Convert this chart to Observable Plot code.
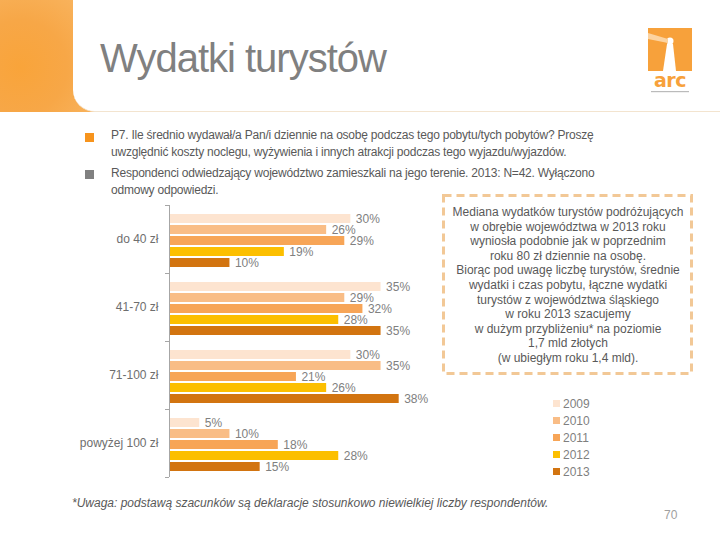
<!DOCTYPE html>
<html>
<head>
<meta charset="utf-8">
<script src="https://cdn.jsdelivr.net/npm/d3@7"></script>
<script src="https://cdn.jsdelivr.net/npm/@observablehq/plot@0.6"></script>
<style>
  html, body { margin: 0; padding: 0; background: #fff; }
  body { width: 720px; height: 540px; position: relative; overflow: hidden; font-family: "Liberation Sans", Arial, sans-serif; color: #595959; }
  .abs { position: absolute; }
  #orange { left: 0; top: 0; width: 100px; height: 112px;
    background: radial-gradient(circle at 20% 60%, #f9a43a 0%, #f7a747 45%, #f9b866 100%); }
  #panel { left: 73px; top: 0; width: 647px; height: 111px; background: #fff; border-bottom-left-radius: 22px; border-bottom: 1px solid #f3e4cf; }
  #title { left: 100px; top: 38px; font-size: 40px; line-height: 40px; letter-spacing: -1px; color: #808080; white-space: nowrap; }
  .bullet { width: 9px; height: 9px; }
  .q { font-size: 12px; line-height: 17px; color: #595959; white-space: nowrap; letter-spacing: -0.22px; }
  #box { left: 440px; top: 192px; }
  #boxtext { left: 446px; top: 205px; width: 244px; text-align: center; font-size: 12px; line-height: 14.6px; color: #595959; white-space: nowrap; }
  #legend { left: 553px; top: 395px; font-size: 12px; color: #7f7f7f; }
  .li { height: 17px; display: flex; align-items: center; }
  .sw { width: 7px; height: 7px; margin-right: 3px; }
  #foot { left: 72px; top: 496px; font-size: 12px; font-style: italic; color: #595959; white-space: nowrap; letter-spacing: 0px; }
  #page { left: 664px; top: 508px; font-size: 12px; color: #a0a0a0; }
  #chart { left: 0; top: 195px; }
  #logo { left: 646px; top: 27px; }
</style>
</head>
<body>
<div id="orange" class="abs"></div>
<div id="panel" class="abs"></div>
<div id="title" class="abs">Wydatki turystów</div>
<svg id="logo" class="abs" width="50" height="68" viewBox="0 0 50 68">
  <rect x="2" y="1" width="44" height="43" fill="#f7a13b"/>
  <polygon points="17,44 21,17 27,17 30,44" fill="#fff"/>
  <circle cx="24" cy="14" r="3.5" fill="#fff"/>
  <polygon points="2,6 22,12 22,16 2,12" fill="#fcd3a0"/>
  <text x="24" y="60" text-anchor="middle" font-size="19" font-weight="bold" fill="#f7a13b" font-family="DejaVu Sans" letter-spacing="-0.5">arc</text>
  <rect x="5" y="64" width="38" height="1.2" fill="#bbb"/>
</svg>

<div class="abs bullet" style="left:85px;top:133px;background:#f7941d"></div>
<div class="abs bullet" style="left:85px;top:170px;background:#808080"></div>
<div class="abs q" style="left:111px;top:127px">P7. Ile średnio wydawał/a Pan/i dziennie na osobę podczas tego pobytu/tych pobytów? Proszę<br>uwzględnić koszty noclegu, wyżywienia i innych atrakcji podczas tego wyjazdu/wyjazdów.</div>
<div class="abs q" style="left:111px;top:165px">Respondenci odwiedzający województwo zamieszkali na jego terenie. 2013: N=42. Wyłączono<br>odmowy odpowiedzi.</div>

<svg id="box" class="abs" width="256" height="186">
  <rect x="3.5" y="3.5" width="248" height="178" fill="none" stroke="#f2c896" stroke-width="3" stroke-dasharray="8,5"/>
</svg>
<div id="boxtext" class="abs">Mediana wydatków turystów podróżujących<br>w obrębie województwa w 2013 roku<br>wyniosła podobnie jak w poprzednim<br>roku 80 zł dziennie na osobę.<br>Biorąc pod uwagę liczbę turystów, średnie<br>wydatki i czas pobytu, łączne wydatki<br>turystów z województwa śląskiego<br>w roku 2013 szacujemy<br>w dużym przybliżeniu* na poziomie<br>1,7 mld złotych<br>(w ubiegłym roku 1,4 mld).</div>

<div id="chart" class="abs"></div>
<div id="legend" class="abs"></div>

<div id="foot" class="abs">*Uwaga: podstawą szacunków są deklaracje stosunkowo niewielkiej liczby respondentów.</div>
<div id="page" class="abs">70</div>

<script>
const categories = ["do 40 zł", "41-70 zł", "71-100 zł", "powyżej 100 zł"];
const years = ["2009", "2010", "2011", "2012", "2013"];
const values2009 = [30, 35, 30, 5];
const values2010 = [26, 29, 35, 10];
const values2011 = [29, 32, 21, 18];
const values2012 = [19, 28, 26, 28];
const values2013 = [10, 35, 38, 15];
const yearColors = ["#fde4d0", "#f9bd86", "#f7a557", "#fcbf00", "#d27410"];

const series = [values2009, values2010, values2011, values2012, values2013];
const data = [];
categories.forEach((c, i) => {
  years.forEach((y, j) => data.push({cat: c, year: y, value: series[j][i]}));
});

const W = 450, H = 287, ML = 169, MT = 10, MB = 5;
const plot = Plot.plot({
  width: W,
  height: H,
  marginLeft: ML,
  marginRight: W - ML - 272,
  marginTop: MT,
  marginBottom: MB,
  style: {fontFamily: "Liberation Sans, Arial, sans-serif", fontSize: "12px", color: "#6e6e6e", background: "transparent"},
  x: {domain: [0, 45], axis: null},
  y: {domain: years, axis: null, paddingInner: 0.18, paddingOuter: 0.5, align: 0.6},
  fy: {domain: categories, padding: 0, label: null, axis: "left", tickSize: 0, tickPadding: 11},
  color: {domain: years, range: yearColors},
  marks: [
    Plot.barX(data, {x: "value", y: "year", fy: "cat", fill: "year"}),
    Plot.text(data, {x: "value", y: "year", fy: "cat", text: d => d.value + "%", textAnchor: "start", dx: 5, fill: "#808080", fontSize: 12}),
    Plot.ruleX([0], {stroke: "#a6a6a6"})
  ]
});
document.getElementById("chart").appendChild(plot);

// group boundary ticks on the category axis, from the fy scale
let fyScale = null;
try { fyScale = plot.scale("fy"); } catch (e) {}
let r0 = MT, r1 = H - MB;
if (fyScale && fyScale.range) { r0 = fyScale.range[0]; r1 = fyScale.range[1]; }
const step = (r1 - r0) / categories.length;
const g = d3.select(plot).append("g").attr("stroke", "#a6a6a6");
d3.range(categories.length + 1).forEach(i => {
  const yy = Math.round(r0 + i * step) + 0.5;
  g.append("line").attr("x1", ML - 4).attr("x2", ML).attr("y1", yy).attr("y2", yy);
});

// legend
const legend = d3.select("#legend");
years.forEach((y, i) => {
  const row = legend.append("div").attr("class", "li");
  row.append("div").attr("class", "sw").style("background", yearColors[i]);
  row.append("span").text(y);
});
</script>
</body>
</html>
